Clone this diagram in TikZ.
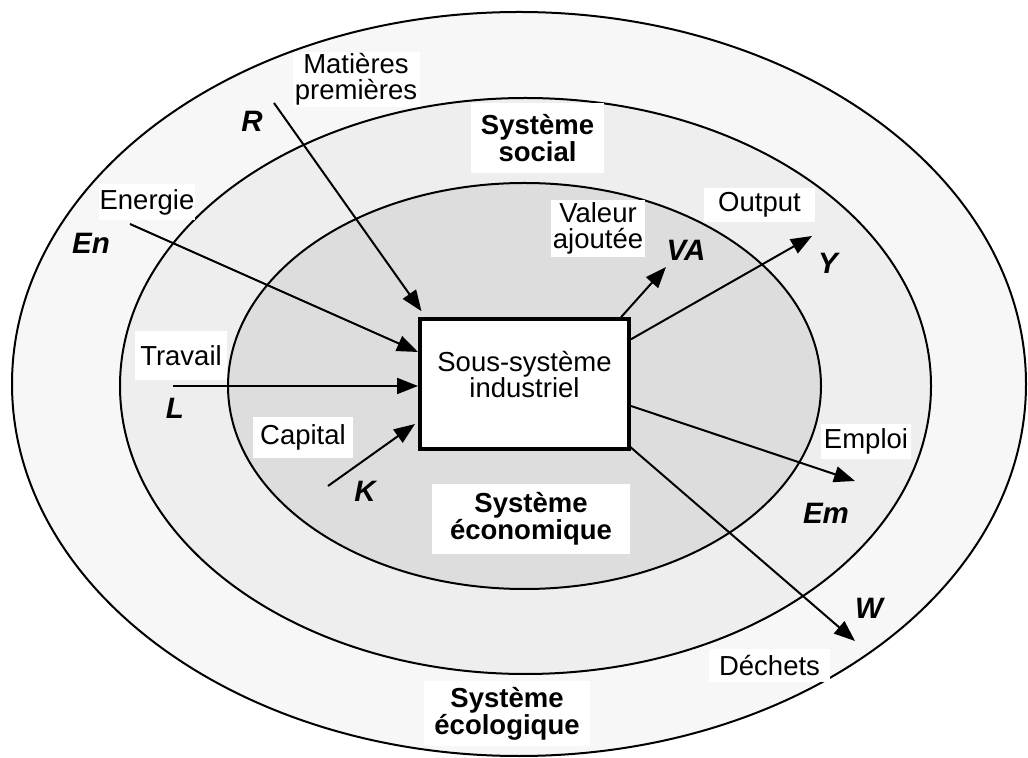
\documentclass[tikz,border=0pt]{standalone}
\usepackage{fontspec}
\setmainfont{Liberation Sans}
\usetikzlibrary{arrows.meta,calc}
\definecolor{ecofill}{HTML}{F7F7F7}
\definecolor{socfill}{HTML}{EEEEEE}
\definecolor{econfill}{HTML}{DDDDDD}
\begin{document}
\begin{tikzpicture}[x=0.5pt,y=-0.5pt,
  every node/.style={font=\fontsize{13.75}{13}\selectfont},
  ring/.style={draw=black,line width=1pt},
  lbl/.style={fill=white,inner sep=0pt,align=center},
  varname/.style={font=\fontsize{14.75}{14}\selectfont\bfseries\itshape,inner sep=0pt},
  systitle/.style={lbl,font=\fontsize{13.75}{13.5}\selectfont\bfseries},
  flow/.style={line width=1pt,-{Triangle[length=10.5pt,width=8pt]}}
]
\useasboundingbox (0,0) rectangle (1028,758);

% nested systems
\path[ring,fill=ecofill]  (519,384)   ellipse [x radius=253.5pt, y radius=186pt];
\path[ring,fill=socfill]  (525.5,386) ellipse [x radius=202.75pt, y radius=144pt];
\path[ring,fill=econfill] (524.5,386) ellipse [x radius=148.25pt, y radius=101.5pt];

% industrial subsystem
\node[draw,line width=2pt,fill=white,minimum width=104.5pt,minimum height=64.75pt,
      inner sep=0pt,align=center,text depth=9.5pt] (box) at (524.5,384)
      {Sous-système\\industriel};

% system titles
\node[systitle,minimum width=66.5pt,minimum height=35pt] (social) at (537.5,138) {Système\\social};
\node[systitle,minimum width=99pt,minimum height=35pt] (econ) at (531,519) {Système\\économique};
\node[systitle,minimum width=83pt,minimum height=32.5pt] (eco) at (507,713.5) {Système\\écologique};

% flow labels
\node[lbl,minimum width=63.5pt,minimum height=27.5pt] (matl) at (356,79.5) {Matières\\premières};
\node[lbl,minimum width=48pt,minimum height=18pt] (enl) at (147,202) {Energie};
\node[lbl,minimum width=46pt,minimum height=24.5pt] (trl) at (181,356) {Travail};
\node[lbl,minimum width=50pt,minimum height=20.5pt] (capl) at (303,437.5) {Capital};
\node[lbl,minimum width=47pt,minimum height=28.5pt] (val) at (598,228.5) {Valeur\\ajoutée};
\node[lbl,minimum width=55.5pt,minimum height=17pt] (outl) at (759.5,205) {Output};
\node[lbl,minimum width=45pt,minimum height=17.5pt] (empl) at (866,441.5) {Emploi};
\node[lbl,minimum width=60.5pt,minimum height=16.5pt] (decl) at (769.5,665.5) {Déchets};

% variable names
\node[varname] (R)  at (252,121) {R};
\node[varname] (En) at (91,243) {En};
\node[varname] (L)  at (175,408) {L};
\node[varname] (K)  at (365,491) {K};
\node[varname] (VA) at (686,250) {VA};
\node[varname] (Y)  at (828,263) {Y};
\node[varname] (Em) at (826,513) {Em};
\node[varname] (W)  at (869,608) {W};

% free ends of the flows
\coordinate (Rtail)  at (274,103);
\coordinate (Entail) at (130,224);
\coordinate (Ltail)  at (173,386);
\coordinate (Ktail)  at (328,486);
\coordinate (VAtip)  at (666,267);
\coordinate (Ytip)   at (812,236);
\coordinate (Emtip)  at (855,481);
\coordinate (Wtip)   at (855,641);

% inputs
\draw[flow] (Rtail)  -- ($(box.north west)+(3.5,-6)$);
\draw[flow] (Entail) -- ($(box.west)+(0,-32)$);
\draw[flow] (Ltail)  -- ($(box.west)+(0,2)$);
\draw[flow] (Ktail)  -- ($(box.west)+(-3,40)$);

% outputs
\draw[flow] ($(box.north east)+(-10,0)$) -- (VAtip);
\draw[flow] ($(box.north east)+(0,22)$)  -- (Ytip);
\draw[flow] ($(box.east)+(0,22)$)        -- (Emtip);
\draw[flow] ($(box.south east)+(-1,-4)$) -- (Wtip);
\end{tikzpicture}
\end{document}
